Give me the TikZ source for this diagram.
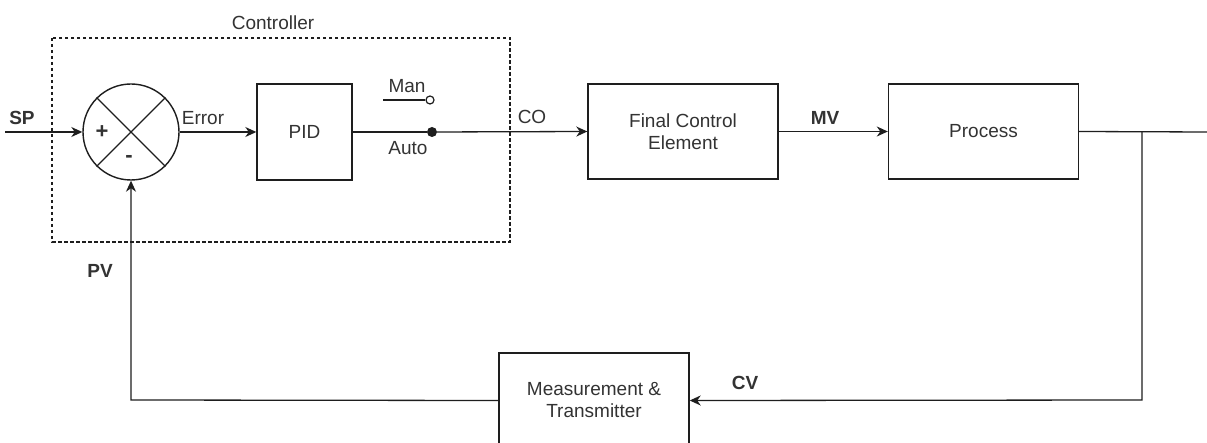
\documentclass[tikz,border=0pt]{standalone}
\usepackage{fontspec}
\setmainfont{Liberation Sans}
\usetikzlibrary{arrows.meta}
\definecolor{txt}{RGB}{51,51,51}
\definecolor{ln}{RGB}{30,30,30}
\begin{document}
\begin{tikzpicture}[x=1pt,y=-1pt,
  every node/.style={font=\fontsize{19}{22}\selectfont, text=txt},
  blk/.style={draw=ln, line width=1.4pt, minimum width=190pt, minimum height=95pt, align=center, inner sep=0pt},
  wire/.style={draw=ln, line width=1.3pt},
  arr/.style={wire, -{Stealth[length=11pt,width=10pt,inset=3.5pt]}},
  lbl/.style={font=\fontsize{19}{22}\selectfont\bfseries, text=txt},
]
\clip (0,0) rectangle (1207,443);
\fill[white] (0,0) rectangle (1207,443);

% controller dashed frame
\draw[ln, line width=1.3pt, dash pattern=on 3.5pt off 2.5pt] (52,38) rectangle (510,242);
\node (ctrl) at (273,23) {Controller};

% summing junction
\node[draw=ln, line width=1.4pt, circle, minimum size=96pt, inner sep=0pt] (sum) at (131,132) {};
\draw[wire] (sum.north west) -- (sum.south east);
\draw[wire] (sum.north east) -- (sum.south west);
\node[lbl, font=\fontsize{22}{22}\selectfont\bfseries] (plus) at (102,132) {+};
\node[lbl, font=\fontsize{22}{22}\selectfont\bfseries] (minus) at (129,159) {-};

% blocks
\node[blk, minimum width=95pt, minimum height=96pt] (pid) at (304.5,132) {PID};
\node[blk] (fce) at (683,131.5) {Final Control\\Element};
\node[blk] (proc) at (983.5,131.5) {Process};
\node[blk] (meas) at (594,400.5) {Measurement \&\\Transmitter};

% switch
\coordinate (manL) at (383,100);
\node[circle, draw=ln, line width=1.2pt, fill=white, minimum size=8pt, inner sep=0pt] (manc) at (430,100) {};
\draw[wire] (manL) -- (manc.west);
\node[circle, fill=ln, minimum size=10pt, inner sep=0pt] (autod) at (432,132) {};
\node (man) at (407,86) {Man};
\node (auto) at (408,148) {Auto};

% coordinates
\coordinate (spin) at (5,132);
\coordinate (out) at (1207,132);
\coordinate (br) at (1142,132);
\coordinate (brd) at (1142,400);
\coordinate (pvc) at (131,400);

% connectors
\draw[arr] (spin) -- (sum.west);
\draw[arr] (sum.east) -- (pid.west);
\draw[wire] (pid.east) -- (autod);
\draw[arr] (autod) -- (fce.west);
\draw[arr] (fce.east) -- (proc.west);
\draw[wire] (proc.east) -- (out);
\draw[arr] (br) -- (brd) -- (meas.east);
\draw[arr] (meas.west) -- (pvc) -- (sum.south);

% labels
\node[lbl] (sp) at (22,118) {SP};
\node (err) at (203,118) {Error};
\node (co) at (532,117) {CO};
\node[lbl] (mv) at (825,118) {MV};
\node[lbl] (pv) at (100,271) {PV};
\node[lbl] (cv) at (745,383) {CV};
\end{tikzpicture}
\end{document}
